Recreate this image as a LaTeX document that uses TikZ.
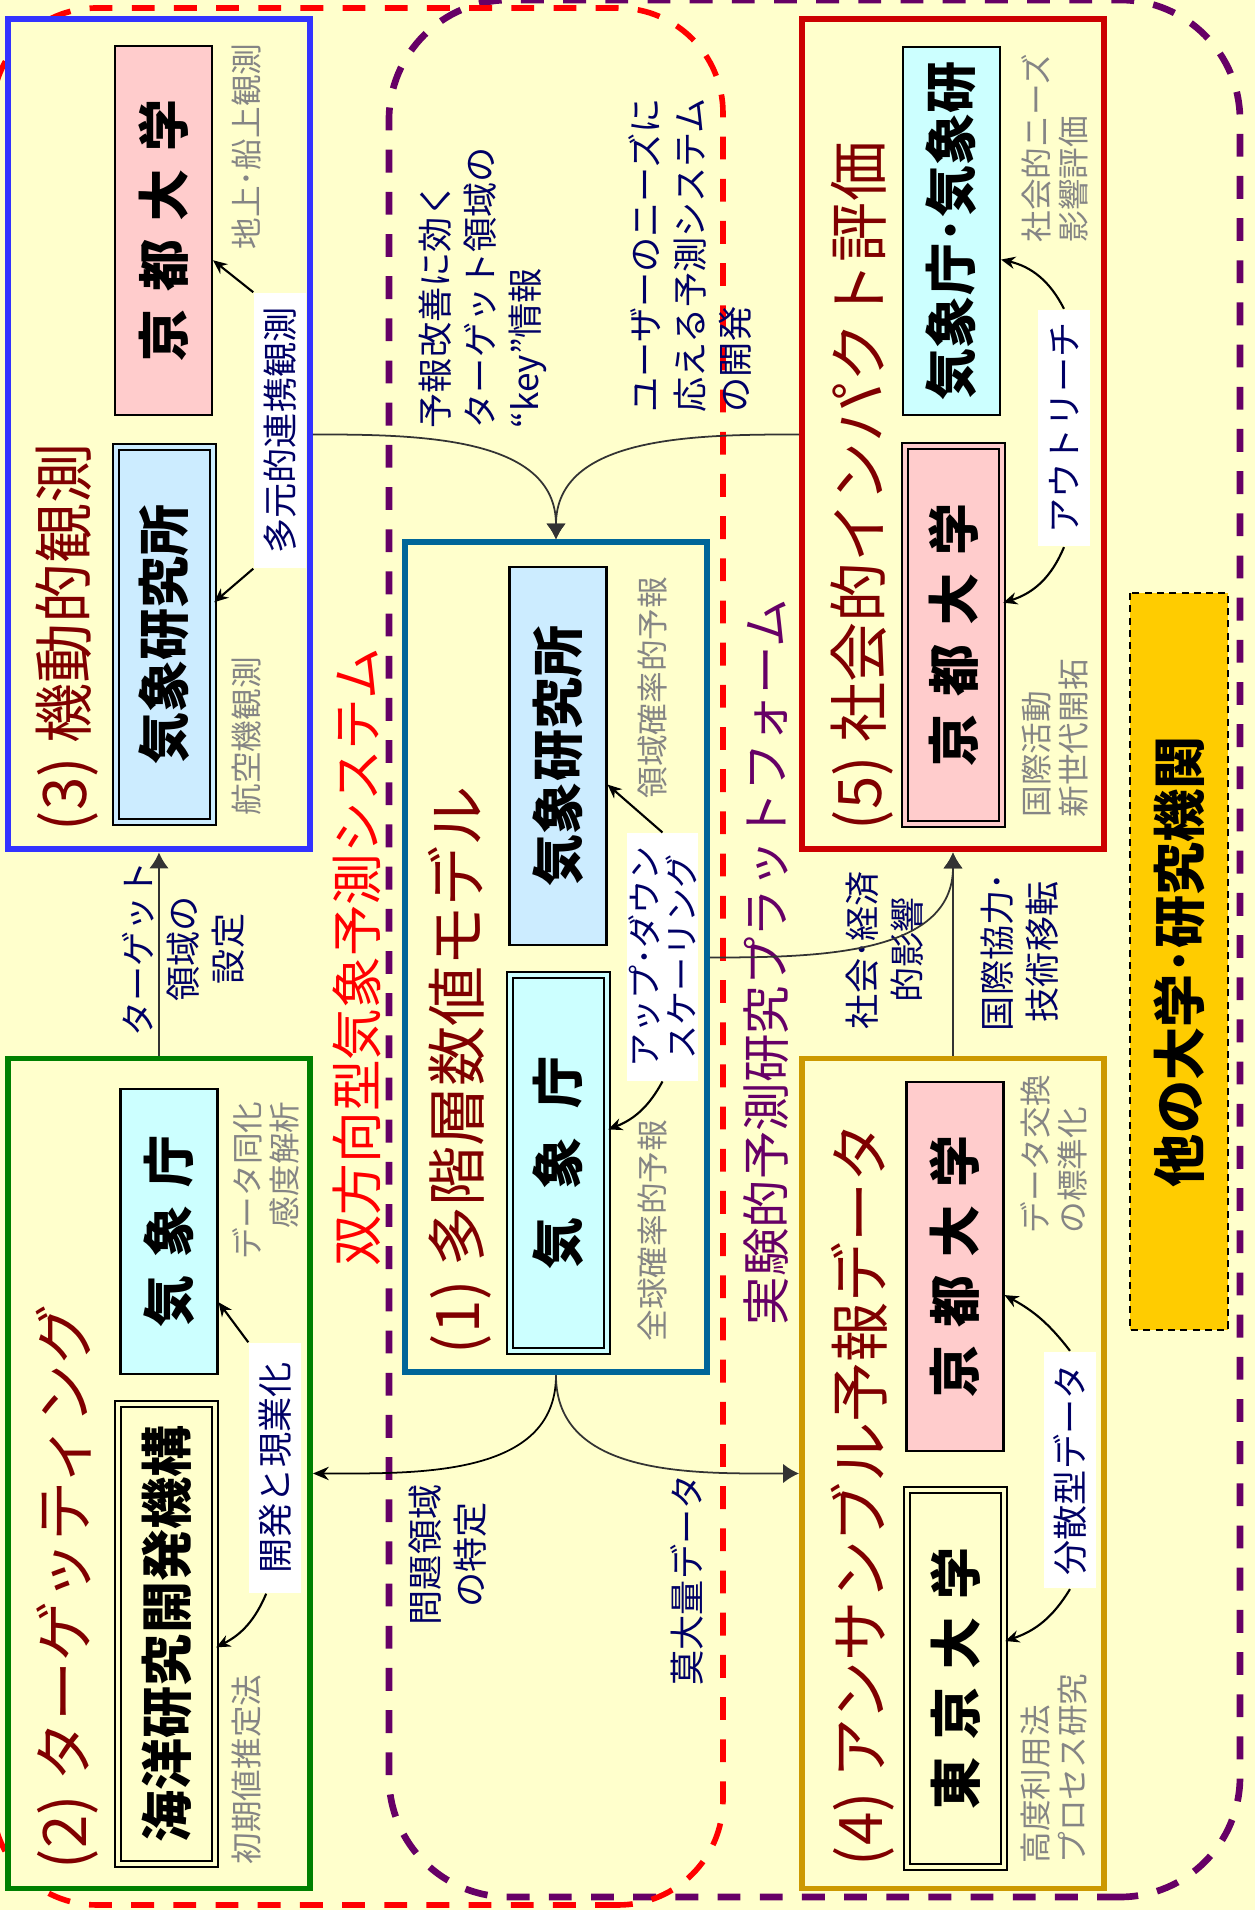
\documentclass[tikz,border=0pt]{standalone}
\usepackage{fontspec}
\setmainfont{Noto Sans CJK JP}
\usepackage{xcolor}
\usepackage{tikz}
\usetikzlibrary{positioning,arrows.meta}

\definecolor{bgyellow}{HTML}{FFFFCC}
\definecolor{navy}{HTML}{000066}
\definecolor{darkred}{HTML}{800000}
\definecolor{sysred}{HTML}{FF0000}
\definecolor{platpurple}{HTML}{660066}
\definecolor{obsblue}{HTML}{3333FF}
\definecolor{tgtgreen}{HTML}{008000}
\definecolor{modelteal}{HTML}{006699}
\definecolor{impred}{HTML}{CC0000}
\definecolor{ensgold}{HTML}{CC9900}
\definecolor{jmablue}{HTML}{CCFFFF}
\definecolor{mriblue}{HTML}{CCECFF}
\definecolor{univpink}{HTML}{FFCCCC}
\definecolor{othergold}{HTML}{FFCC00}
\definecolor{notegray}{HTML}{858585}
\definecolor{linegray}{HTML}{333333}

\newcommand{\jsp}{\hspace{0.35em}}
\newcommand{\jwide}{\hspace{0.55em}}

\begin{document}
\begin{tikzpicture}[x=0.1mm, y=0.1mm, rotate=90, transform shape,
    group/.style={draw=#1, line width=1.7pt, fill=bgyellow, minimum width=83mm, minimum height=30.2mm, inner sep=0pt},
    title/.style={text=darkred, font=\fontsize{17.1}{20}\selectfont, anchor=west, inner sep=0pt},
    org/.style={draw=black, line width=0.6pt, fill=#1, minimum height=9.7mm, inner sep=0pt, font=\bfseries\fontsize{14.8}{17}\selectfont},
    orgdbl/.style={org=#1, line width=0.7pt, double=#1, double distance=0.9pt},
    otherorg/.style={draw=black, line width=0.5pt, dash pattern=on 2pt off 1.5pt, fill=othergold, minimum width=73.7mm, minimum height=9.8mm, inner sep=0pt, font=\bfseries\fontsize{15.1}{18}\selectfont},
    note/.style={text=notegray, font=\fontsize{9}{10.5}\selectfont, inner sep=0pt},
    tag/.style={text=navy, font=\fontsize{10}{12.8}\selectfont, inner sep=0pt},
    wtag/.style={tag, fill=white, minimum height=5.2mm, inner xsep=1.3mm},
    flow/.style={draw=linegray, line width=0.5pt, -{Latex[length=4.5pt,width=5.5pt]}},
    link/.style={draw=black, line width=0.6pt, -{Stealth[length=4pt,width=3.5pt]}},
    sysframe/.style={draw=sysred, line width=1.6pt, dash pattern=on 6.5pt off 5.5pt, rounded corners=10.5mm},
    platframe/.style={draw=platpurple, line width=1.9pt, dash pattern=on 6.5pt off 5.5pt, rounded corners=12mm}
  ]
  \useasboundingbox (0,0) rectangle (1910,1255);
  \fill[bgyellow] (0,0) rectangle (1910,1255);

  % 外枠
  \draw[platframe] (13,15) rectangle (1910,866);
  \draw[sysframe] (5,532) rectangle (1902,1263);

  % 各グループ
  \node[group=obsblue] (obs) at (1475.5,1096) {};
  \node[group=tgtgreen] (tgt) at (436.5,1096) {};
  \node[group=modelteal] (model) at (952.5,699) {};
  \node[group=impred] (imp) at (1475.5,302) {};
  \node[group=ensgold] (ens) at (436.5,302) {};

  \node[title] (obstitle) at (1078,1188) {(3) 機動的観測};
  \node[title] (tgttitle) at (40,1188) {(2) ターゲッティング};
  \node[title] (modeltitle) at (555,795) {(1) 多階層数値モデル};
  \node[title] (imptitle) at (1079,393) {(5) 社会的インパクト評価};
  \node[title] (enstitle) at (43,392) {(4) アンサンブル予報データ};

  % 機関
  \node[org=univpink, minimum width=36.9mm] (kyoto3) at (1679.5,1091.5) {京\jsp 都\jsp 大\jsp 学};
  \node[orgdbl=mriblue, minimum width=37.5mm] (mri3) at (1275.5,1090.5) {気象研究所};
  \node[org=jmablue, minimum width=28.5mm] (jma2) at (678.5,1086) {気\jsp 象\jsp 庁};
  \node[orgdbl=bgyellow, minimum width=46mm] (jamstec) at (276,1088.5) {海洋研究開発機構};
  \node[org=mriblue, minimum width=37.8mm] (mri1) at (1154,697) {気象研究所};
  \node[orgdbl=jmablue, minimum width=37.6mm] (jma1) at (747,696.5) {気\jwide 象\jwide 庁};
  \node[org=jmablue, minimum width=36.8mm] (jmamri) at (1679,303.5) {気象庁･気象研};
  \node[orgdbl=univpink, minimum width=37.8mm] (kyoto5) at (1275,301.5) {京\jsp 都\jsp 大\jsp 学};
  \node[org=univpink, minimum width=36.9mm] (kyoto4) at (643.5,300) {京\jsp 都\jsp 大\jsp 学};
  \node[orgdbl=bgyellow, minimum width=37.7mm] (tokyo) at (231.5,299.5) {東\jsp 京\jsp 大\jsp 学};
  \node[otherorg] (others) at (948.5,76) {他の大学･研究機関};

  % 注記
  \node[note, anchor=west] (obsnote1) at (1660,1008) {地上･船上観測};
  \node[note, anchor=west] (obsnote2) at (1094,1008) {航空機観測};
  \node[note, anchor=east, align=right] (tgtnote1) at (809,989) {データ同化\\感度解析};
  \node[note, anchor=west] (tgtnote2) at (45,1008) {初期値推定法};
  \node[note, anchor=west] (modelnote1) at (1111,603) {領域確率的予報};
  \node[note, anchor=west] (modelnote2) at (568,603) {全球確率的予報};
  \node[note, anchor=west, align=left] (impnote1) at (1667,200) {社会的ニーズ\\影響評価};
  \node[note, anchor=west, align=left] (impnote2) at (1092,200) {国際活動\\新世代開拓};
  \node[note, anchor=west, align=left] (ensnote1) at (676,201) {データ交換\\の標準化};
  \node[note, anchor=west, align=left] (ensnote2) at (46,201) {高度利用法\\プロセス研究};

  % ラベル
  \node[tag, anchor=west, align=left] (keyinfo) at (1481,772) {予報改善に効く\\ターゲット領域の\\“key”情報};
  \node[tag, anchor=west, align=left] (userneeds) at (1497,565) {ユーザーのニーズに\\応える予測システム\\の開発};
  \node[tag, align=center] (tgtset) at (961,1072) {ターゲット\\領域の\\設定};
  \node[tag, align=center] (probarea) at (355,807) {問題領域\\の特定};
  \node[tag] (bigdata) at (330,568) {莫大量データ};
  \node[tag, align=center] (socimpact) at (960,370) {社会･経済\\的影響};
  \node[tag, align=center] (intlcoop) at (958,235) {国際協力･\\技術移転};

  \node[wtag, minimum width=27.5mm] (mlink) at (1479.5,975) {多元的連携観測};
  \node[wtag, minimum width=20.8mm] (outreach) at (1482,191) {アウトリーチ};
  \node[wtag, minimum width=25mm] (devel) at (442,980) {開発と現業化};
  \node[wtag, minimum width=23.4mm] (distrib) at (440,185) {分散型データ};
  \node[wtag, align=center, font=\fontsize{9.7}{10.5}\selectfont, minimum width=24.6mm, minimum height=7.1mm] (updown) at (953,592.5) {アップ･ダウン\\スケーリング};

  \node[text=sysred, font=\fontsize{14.7}{17}\selectfont] (syslabel) at (952.5,898) {双方向型気象予測システム};
  \node[text=platpurple, font=\fontsize{13.8}{16}\selectfont] (platlabel) at (948,489) {実験的予測研究プラットフォーム};

  % 矢印
  \draw[flow] (obs.south) to[out=-90, in=0] (model.east);
  \draw[flow] (imp.north) to[out=90, in=0] (model.east);
  \draw[link, line width=0.5pt, -{Stealth[length=4.5pt,width=3.8pt]}] (model.west) to[out=180, in=-90] (tgt.south);
  \draw[flow] (model.west) to[out=180, in=90] (ens.north);
  \draw[flow] (model.south) to[out=-90, in=180] (imp.west);
  \draw[flow] (ens.east) -- (imp.west);
  \draw[flow] (tgt.east) -- (obs.west);

  \draw[link] (mlink.north east) -- (kyoto3.239);
  \draw[link] (mlink.north west) -- (mri3.303);
  \draw[link] (devel.north east) -- (jma2.215);
  \draw[link] (devel.176) to[bend left=20] (jamstec.255);
  \draw[link] (updown.east) -- (mri1.240);
  \draw[link] (updown.west) to[bend left=20] (jma1.304);
  \draw[link] (outreach.east) to[bend right=25] (jmamri.240);
  \draw[link] (outreach.west) to[bend left=25] (kyoto5.303);
  \draw[link] (distrib.east) to[bend right=12] (kyoto4.240);
  \draw[link] (distrib.west) to[bend left=20] (tokyo.307);
\end{tikzpicture}
\end{document}
